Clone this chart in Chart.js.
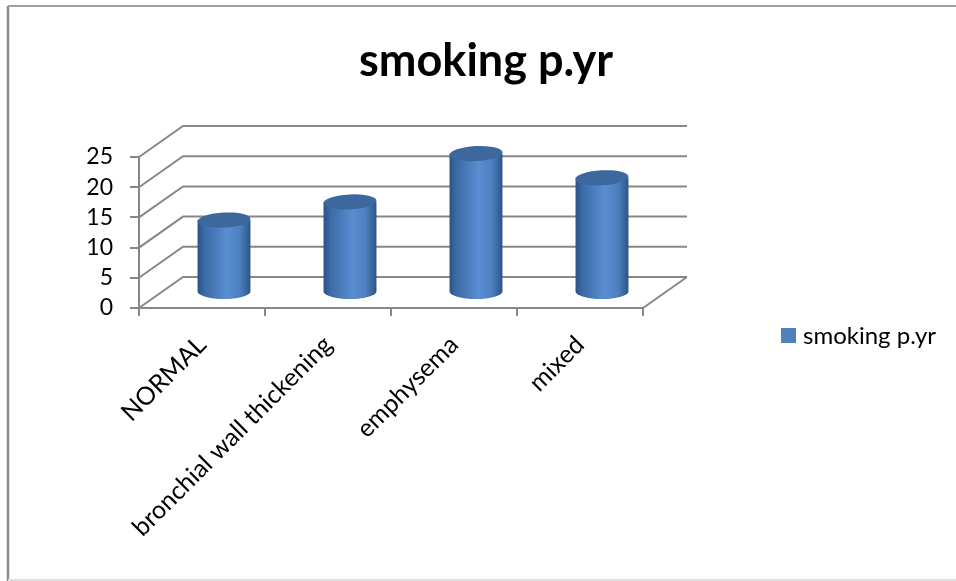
<!DOCTYPE html>
<html>
<head>
<meta charset="utf-8">
<title>smoking p.yr</title>
<script src="https://cdn.jsdelivr.net/npm/chart.js@4.4.0/dist/chart.umd.min.js"></script>
<style>
  html, body { margin: 0; padding: 0; background: #fff; }
  #wrap { position: relative; width: 956px; height: 581px; }
</style>
</head>
<body>
<div id="wrap"><canvas id="chart" width="956" height="581"></canvas></div>
<script>
// categories and values
const CATEGORIES = ['NORMAL', 'bronchial wall thickening', 'emphysema', 'mixed'];
const SMOKING_PYR = [12, 15, 23, 19];
const SERIES_NAME = 'smoking p.yr';
const Y_MIN = 0;
const Y_MAX = 25;
const Y_STEP = 5;

// depth of the fake 3d box (back wall offset from the front plane)
const DEPTH_X = 44;
const DEPTH_Y = -31;
const AXIS_GREY = '#878787';
const FONT = "Lato, 'Open Sans', sans-serif";

Chart.defaults.font.family = FONT;
Chart.defaults.color = '#000';

function drawCylinder(ctx, cx, top, bottom, rx, ry) {
    const g = ctx.createLinearGradient(cx - rx, 0, cx + rx, 0);
    g.addColorStop(0, '#2a5183');
    g.addColorStop(0.12, '#3b69a5');
    g.addColorStop(0.55, '#5a8ed1');
    g.addColorStop(0.8, '#4d80c0');
    g.addColorStop(1, '#2c5586');
    ctx.fillStyle = g;
    ctx.beginPath();
    ctx.moveTo(cx - rx, top);
    ctx.lineTo(cx - rx, bottom);
    ctx.ellipse(cx, bottom, rx, ry, 0, Math.PI, 0, true);
    ctx.lineTo(cx + rx, top);
    ctx.closePath();
    ctx.fill();

    // lid
    ctx.fillStyle = '#3d689d';
    ctx.beginPath();
    ctx.ellipse(cx, top, rx, ry, -0.05, 0, Math.PI * 2);
    ctx.fill();
}

const box3d = {
    id: 'box3d',
    beforeDraw(chart) {
        const { ctx } = chart;
        ctx.save();
        // frame of the chart object
        ctx.lineWidth = 2.5;
        ctx.strokeStyle = '#8a8a8a';
        ctx.beginPath();
        ctx.moveTo(8, 581);
        ctx.lineTo(8, 6);
        ctx.stroke();
        ctx.lineWidth = 2;
        ctx.strokeStyle = '#a0a0a0';
        ctx.beginPath();
        ctx.moveTo(8, 6);
        ctx.lineTo(956, 6);
        ctx.stroke();
        ctx.strokeStyle = '#dddddd';
        ctx.beginPath();
        ctx.moveTo(8, 580);
        ctx.lineTo(956, 580);
        ctx.stroke();
        ctx.restore();
    },
    beforeDatasetsDraw(chart) {
        const { ctx, chartArea: a, scales: { y } } = chart;
        ctx.save();
        ctx.strokeStyle = AXIS_GREY;
        ctx.lineWidth = 2;
        ctx.beginPath();
        y.ticks.forEach(t => {
            const py = y.getPixelForValue(t.value);
            ctx.moveTo(a.left, py);
            ctx.lineTo(a.left + DEPTH_X, py + DEPTH_Y);
            ctx.lineTo(a.right + DEPTH_X, py + DEPTH_Y);
        });
        // right edge of the floor
        ctx.moveTo(a.right, a.bottom);
        ctx.lineTo(a.right + DEPTH_X, a.bottom + DEPTH_Y);
        ctx.stroke();
        ctx.restore();
    },
    afterDatasetsDraw(chart) {
        const { ctx } = chart;
        const meta = chart.getDatasetMeta(0);
        ctx.save();
        meta.data.forEach(bar => {
            const { x, y, base, width } = bar.getProps(['x', 'y', 'base', 'width'], true);
            drawCylinder(ctx, x + DEPTH_X / 2, y + DEPTH_Y / 2, base + DEPTH_Y / 2, width / 2, 7.5);
        });
        ctx.restore();
    },
    afterDraw(chart) {
        const { ctx } = chart;
        ctx.save();
        // title
        ctx.fillStyle = '#000';
        ctx.font = 'bold 45px ' + FONT;
        ctx.textAlign = 'center';
        ctx.textBaseline = 'alphabetic';
        ctx.fillText(SERIES_NAME, 486, 76);
        // legend
        ctx.fillStyle = '#4f81bd';
        ctx.fillRect(781, 328, 15, 15);
        ctx.fillStyle = '#000';
        ctx.font = '24px ' + FONT;
        ctx.textAlign = 'left';
        ctx.textBaseline = 'middle';
        ctx.fillText(SERIES_NAME, 803, 336);
        ctx.restore();
    }
};

new Chart(document.getElementById('chart'), {
    type: 'bar',
    data: {
        labels: CATEGORIES,
        datasets: [{
            label: SERIES_NAME,
            data: SMOKING_PYR,
            backgroundColor: 'rgba(0,0,0,0)',
            borderWidth: 0,
            categoryPercentage: 1,
            barPercentage: 0.42
        }]
    },
    options: {
        responsive: false,
        devicePixelRatio: 1,
        animation: false,
        layout: { padding: { left: 10, right: 313, top: 157, bottom: 10 } },
        plugins: {
            legend: { display: false },
            title: { display: false },
            tooltip: { enabled: false }
        },
        scales: {
            x: {
                afterFit(scale) { scale.height = 263; },
                grid: { drawOnChartArea: false, tickLength: 8, color: AXIS_GREY, lineWidth: 2 },
                border: { color: AXIS_GREY, width: 2 },
                ticks: { minRotation: 45, maxRotation: 45, padding: 14, font: { size: 25 }, color: '#000' }
            },
            y: {
                min: Y_MIN,
                max: Y_MAX,
                afterFit(scale) { scale.width = 129; },
                grid: { drawOnChartArea: false, tickLength: 9, color: AXIS_GREY, lineWidth: 2 },
                border: { color: AXIS_GREY, width: 2 },
                ticks: { stepSize: Y_STEP, autoSkip: false, padding: 17, font: { size: 23 }, color: '#000' }
            }
        }
    },
    plugins: [box3d]
});
</script>
</body>
</html>
